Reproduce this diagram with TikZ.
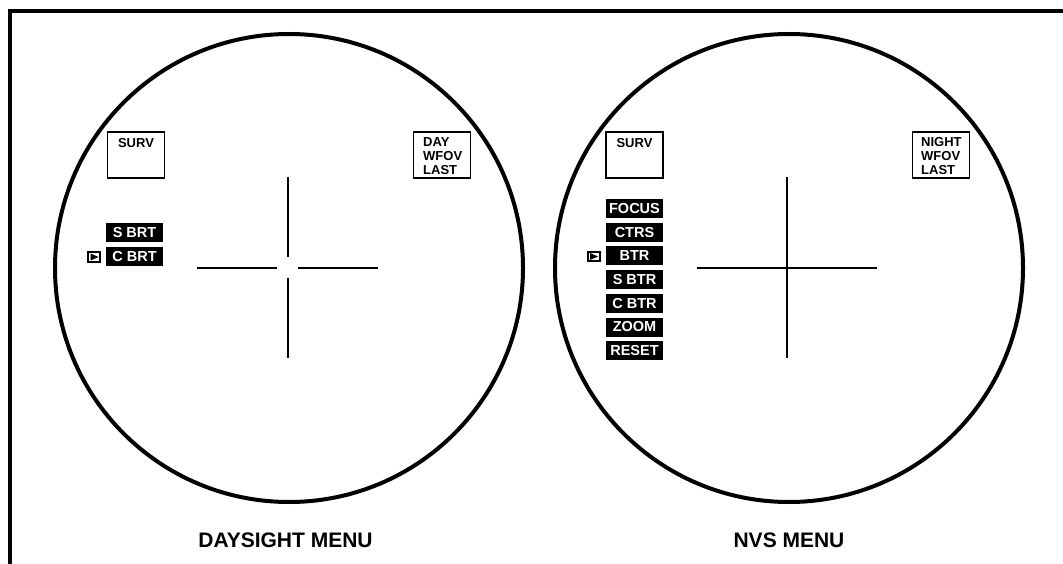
\documentclass[tikz,border=0pt]{standalone}
\usepackage{fontspec}
\setmainfont{Liberation Sans}
\begin{document}
\begin{tikzpicture}[x=1pt,y=-1pt,
  scope/.style={line width=4pt},
  hair/.style={line width=2pt},
  labelbox/.style={draw, line width=1.5pt, minimum width=57pt, minimum height=46pt, inner sep=0pt},
  boxtext/.style={font=\bfseries\fontsize{13}{14}\selectfont, inner sep=0pt, align=left},
  menuitem/.style={fill=black, text=white, font=\bfseries\fontsize{14.5}{16}\selectfont, minimum width=57pt, minimum height=19pt, inner sep=0pt},
  pointer/.style={draw, line width=2pt, minimum width=12pt, minimum height=9pt, inner sep=0pt},
  title/.style={font=\bfseries\fontsize{21}{24}\selectfont, inner sep=0pt}]
\useasboundingbox (0,0) rectangle (1063,564);
% frame
\draw[line width=4pt] (10,564) -- (10,11) -- (1063,11);
% circles
\draw[scope] (289,268) circle (234);
\draw[scope] (789,268) circle (234);
% left crosshair (gapped)
\draw[hair] (197,268) -- (277,268);
\draw[hair] (298,268) -- (378,268);
\draw[hair] (288,177) -- (288,257);
\draw[hair] (288,278) -- (288,358);
% right crosshair
\draw[hair] (697,268) -- (877,268);
\draw[hair] (787,177) -- (787,358);
% left boxes
\node[labelbox] (lsurv) at (136,155) {};
\node[boxtext, anchor=north] (lsurvt) at (136,138) {SURV};
\node[labelbox] (lday) at (442,155) {};
\node[boxtext, anchor=north west] (ldayt) at (423,137) {DAY\\WFOV\\LAST};
\node[menuitem] (sbrt) at (134.5,232.5) {S BRT};
\node[menuitem] (cbrt) at (134.5,256.5) {C BRT};
\node[pointer] (lptr) at (94,257) {};
\fill (lptr.center) ++(-3.5,-3.5) -- ++(8,3.5) -- ++(-8,3.5) -- cycle;
% right boxes
\node[labelbox] (rsurv) at (634.5,155) {};
\node[boxtext, anchor=north] (rsurvt) at (634.5,138) {SURV};
\node[labelbox] (rnight) at (941,155) {};
\node[boxtext, anchor=north west] (rnightt) at (921,137) {NIGHT\\WFOV\\LAST};
\node[menuitem] (focus) at (634.5,208.5) {FOCUS};
\node[menuitem] (ctrs) at (634.5,232.2) {CTRS};
\node[menuitem] (btr) at (634.5,255.9) {BTR};
\node[menuitem] (sbtr) at (634.5,279.6) {S BTR};
\node[menuitem] (cbtr) at (634.5,303.3) {C BTR};
\node[menuitem] (zoom) at (634.5,327) {ZOOM};
\node[menuitem] (reset) at (634.5,350.7) {RESET};
\node[pointer] (rptr) at (593.5,256.5) {};
\fill (rptr.center) ++(-3.5,-3.5) -- ++(8,3.5) -- ++(-8,3.5) -- cycle;
% titles
\node[title] (t1) at (285.5,540.5) {DAYSIGHT MENU};
\node[title] (t2) at (789,540.5) {NVS MENU};
\end{tikzpicture}
\end{document}
